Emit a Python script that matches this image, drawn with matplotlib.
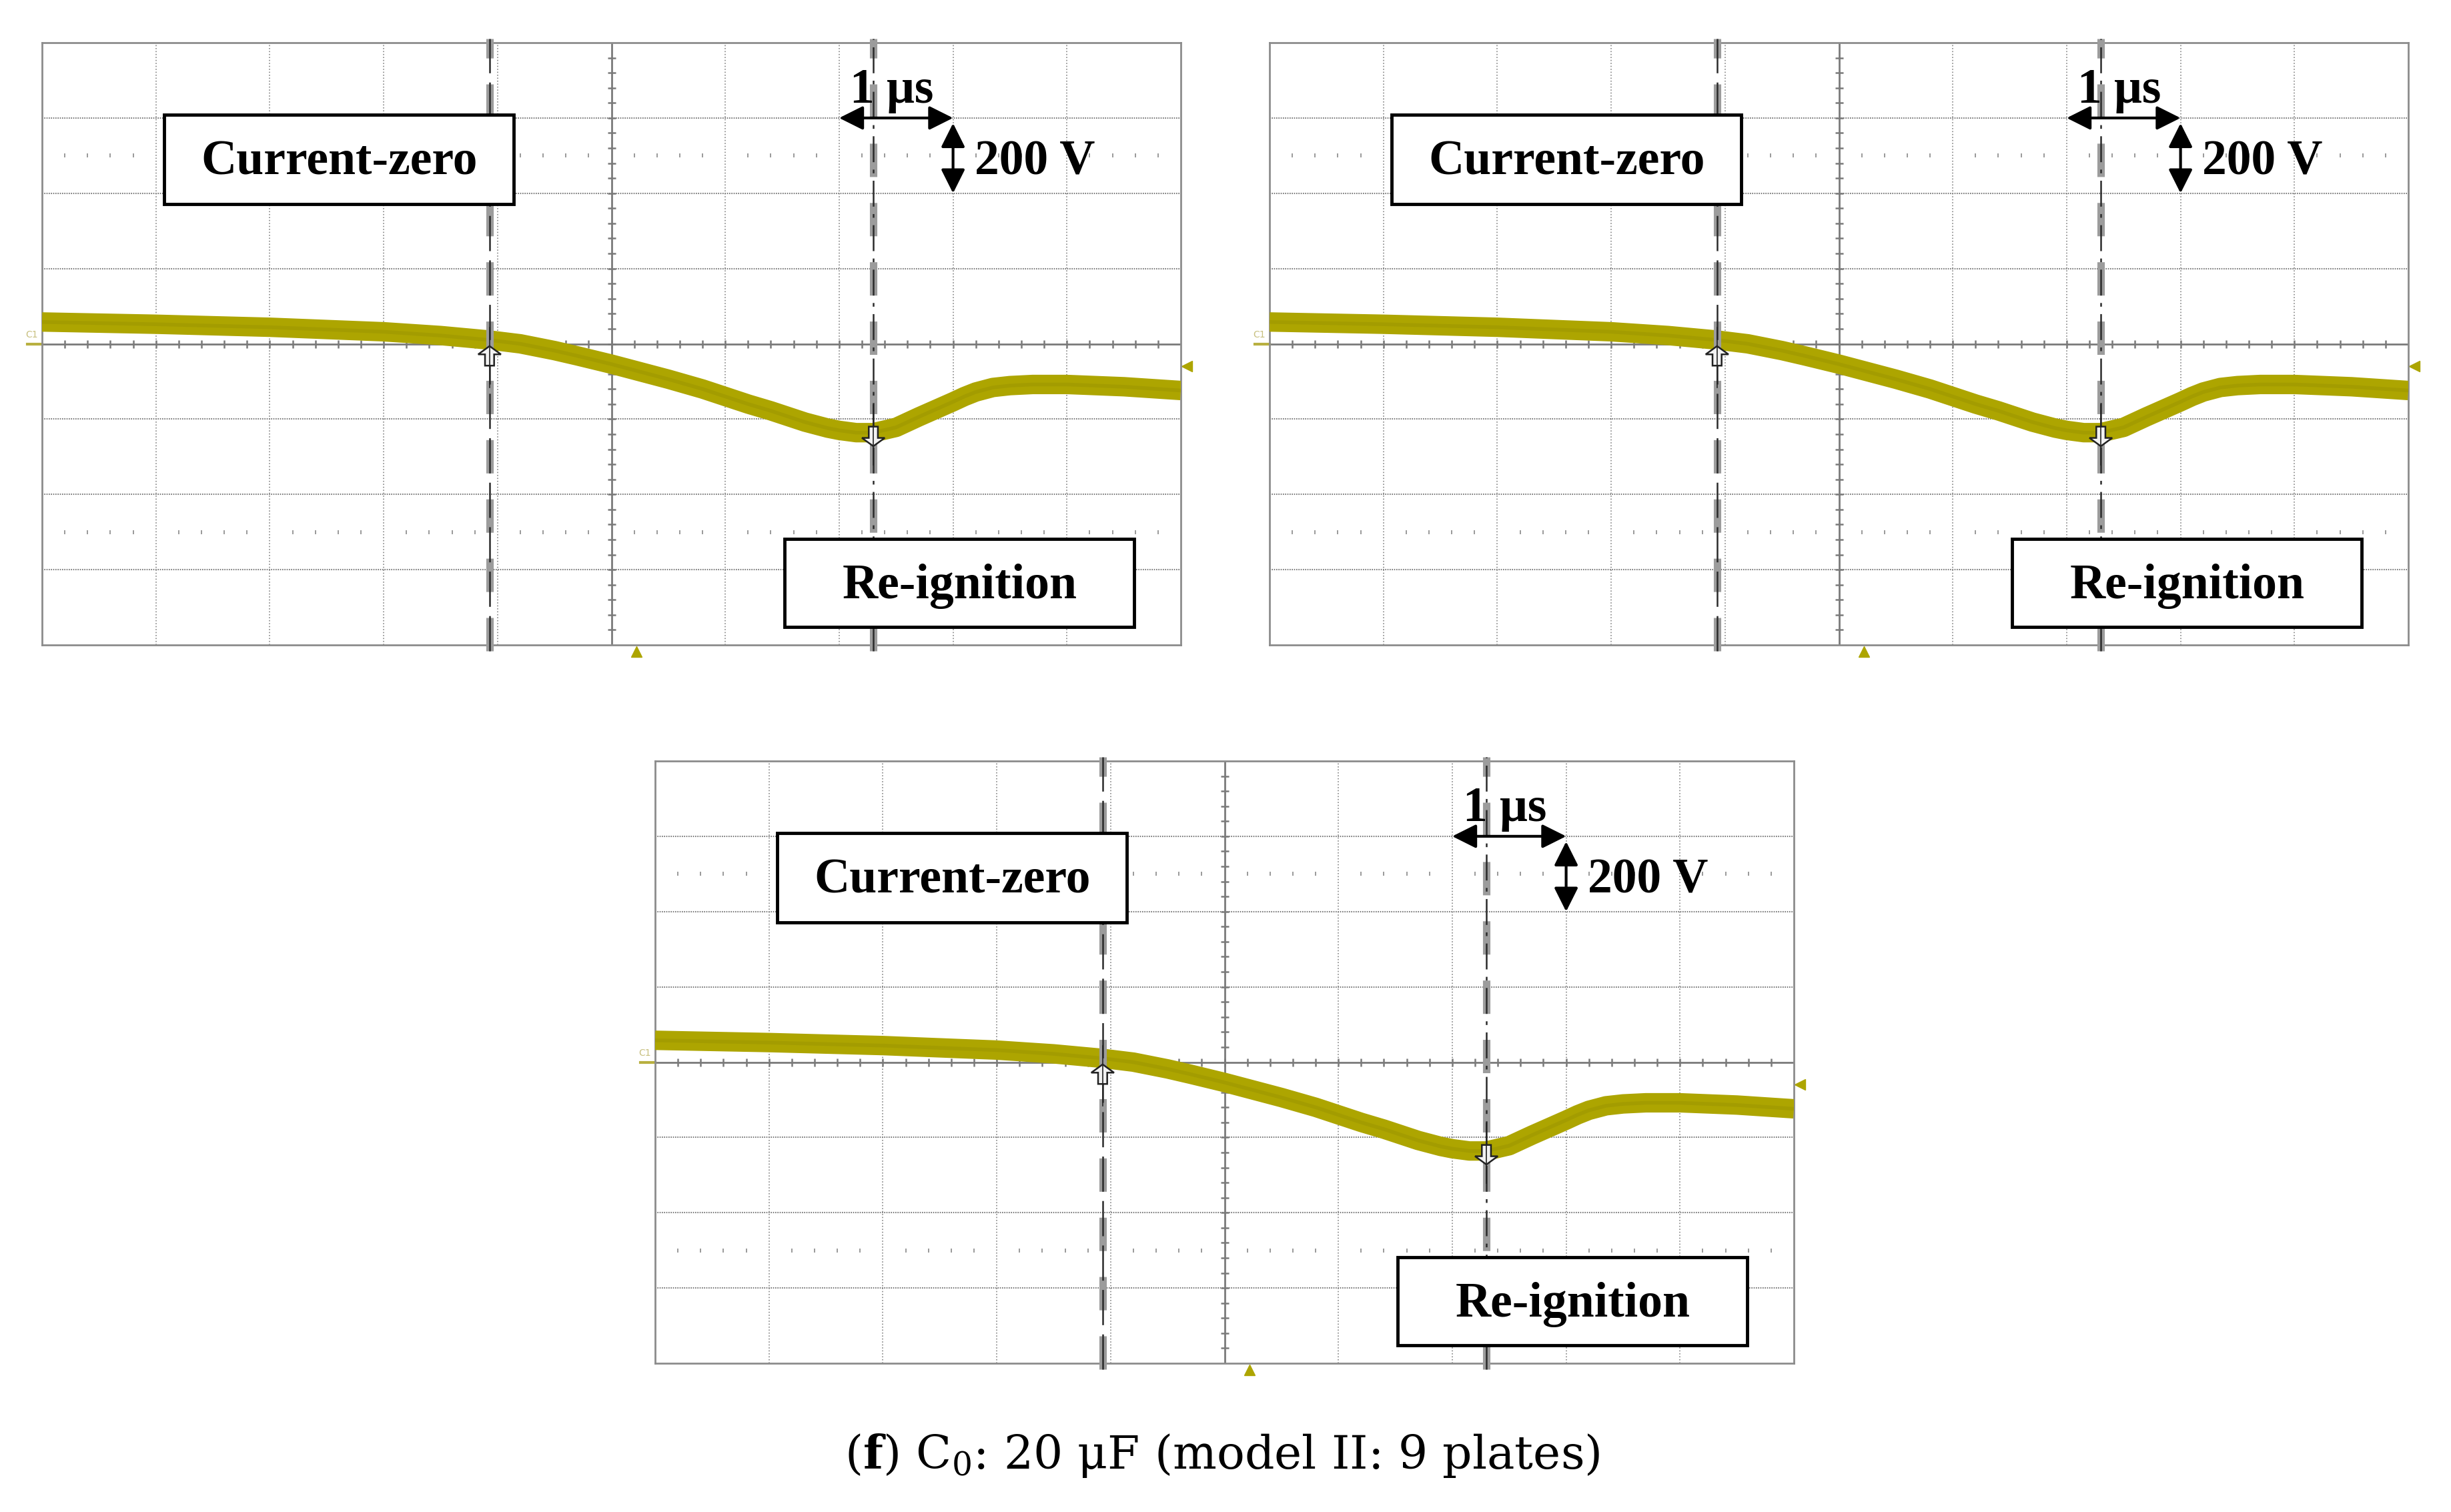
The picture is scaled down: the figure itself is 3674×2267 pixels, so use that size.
"""Oscilloscope traces: current-zero and re-ignition, three identical captures."""
import matplotlib
matplotlib.use("Agg")
import matplotlib.pyplot as plt
from matplotlib.patches import Rectangle, Polygon, FancyArrowPatch

plt.rcParams["font.family"] = ["Liberation Serif", "DejaVu Serif"]
plt.rcParams["mathtext.fontset"] = "dejavuserif"
plt.rcParams["lines.scale_dashes"] = False

# trace, in divisions (10 x 8 grid, centre = 0)
TRACE_X = [0.0, 1.0, 2.0, 3.0, 3.5, 3.93, 4.2, 4.5, 4.7, 5.0, 5.2, 5.5,
           5.8, 6.0, 6.2, 6.4, 6.7, 6.9, 7.0, 7.15, 7.3, 7.5, 7.7, 7.85,
           8.0, 8.1, 8.2, 8.35, 8.5, 8.7, 9.0, 9.5, 10.0]
TRACE_Y = [0.29, 0.26, 0.22, 0.16, 0.11, 0.05, 0.0, -0.09, -0.16, -0.27,
           -0.35, -0.47, -0.60, -0.70, -0.80, -0.89, -1.04, -1.12, -1.15,
           -1.18, -1.18, -1.11, -0.97, -0.87, -0.77, -0.70, -0.64, -0.58,
           -0.555, -0.54, -0.54, -0.57, -0.62]

CURSOR_ZERO = 3.93     # current-zero cursor (div)
CURSOR_REIGN = 7.30    # re-ignition cursor (div)
SCALE_T = (7.0, 8.0)   # 1 us marker span
SCALE_V = (2.93, 2.0)  # 200 V marker span
TRIG_X = 5.22
OFFSET_RIGHT = -0.30

LABELS = ["Current-zero", "Re-ignition"]
CAPTION = r"($\mathbf{f}$) C$_0$: 20 μF (model II: 9 plates)"

TRACE_COL = "#ADA500"
GRID_COL = "#7c7c7c"
AXIS_COL = "#7a7a7a"


def cursor_arrow(ax, x, tip, up=True):
    hw, sw, hh, sl = 0.10, 0.04, 0.11, 0.26
    s = 1 if up else -1
    pts = [(x, tip), (x + hw, tip - s * hh), (x + sw, tip - s * hh),
           (x + sw, tip - s * sl), (x - sw, tip - s * sl),
           (x - sw, tip - s * hh), (x - hw, tip - s * hh)]
    ax.add_patch(Polygon(pts, closed=True, fc="#f2f2f2", ec="#222222",
                         lw=1.8, zorder=6))
    ax.plot([x, x], [tip + s * 0.25, tip - s * 0.55], color="#222222",
            lw=1.2, zorder=7)


def draw_scope(ax):
    ax.set_xlim(0, 10)
    ax.set_ylim(-4, 4)
    ax.set_xticks([])
    ax.set_yticks([])
    for sp in ax.spines.values():
        sp.set_color("#8c8c8c")
        sp.set_linewidth(2.0)

    # graticule
    for gx in range(1, 10):
        if gx != 5:
            ax.axvline(gx, color=GRID_COL, lw=1.1, ls=(0, (1.2, 2.0)), zorder=1)
    for gy in range(-3, 4):
        if gy != 0:
            ax.axhline(gy, color=GRID_COL, lw=1.5, ls=(0, (1.2, 1.2)), zorder=1)
    ax.axhline(0, color=AXIS_COL, lw=2.0, zorder=2)
    ax.axvline(5, color=AXIS_COL, lw=2.0, zorder=2)
    minor_x = [i / 5 for i in range(1, 50)]
    minor_y = [i / 5 - 4 for i in range(1, 40)]
    ax.plot(minor_x, [0] * len(minor_x), ls="none", marker="|", ms=9,
            mew=1.8, color=AXIS_COL, zorder=2)
    ax.plot([5] * len(minor_y), minor_y, ls="none", marker="_", ms=8,
            mew=1.8, color=AXIS_COL, zorder=2)
    for ry in (2.5, -2.5):
        tx = [v for v in minor_x if abs(v - round(v)) > 1e-6]
        ax.plot(tx, [ry] * len(tx), ls="none", marker="|", ms=4,
                mew=1.4, color="#9a9a9a", zorder=2)

    # trace
    ax.plot(TRACE_X, TRACE_Y, color=TRACE_COL, lw=21, solid_capstyle="butt",
            solid_joinstyle="round", zorder=3)
    ax.plot(TRACE_X, TRACE_Y, color="#8f8900", lw=4, alpha=0.3, zorder=3)

    # cursors
    for cx, dark_ls in ((CURSOR_ZERO, (0, (38, 10))),
                        (CURSOR_REIGN, (0, (28, 8, 4, 8)))):
        ax.plot([cx, cx], [-4.08, 4.05], color="#9c9c9c", lw=8,
                ls=(0, (36, 28)), zorder=4, clip_on=False,
                dash_capstyle="butt")
        ax.plot([cx, cx], [-4.08, 4.05], color="#2a2a2a", lw=1.8,
                ls=dark_ls, zorder=4, clip_on=False, dash_capstyle="butt")
    cursor_arrow(ax, CURSOR_ZERO, -0.03, up=True)
    cursor_arrow(ax, CURSOR_REIGN, -1.36, up=False)

    # boxed labels
    for (x0, x1, y0, y1), lab, tx, ty in (
            ((1.07, 4.14, 1.86, 3.04), LABELS[0], 2.61, 2.25),
            ((6.52, 9.59, -3.76, -2.59), LABELS[1], 8.06, -3.38)):
        ax.add_patch(Rectangle((x0, y0), x1 - x0, y1 - y0, fc="white",
                               ec="black", lw=3.5, zorder=8))
        ax.text(tx, ty, lab, ha="center", va="baseline", fontsize=53,
                fontweight="bold", zorder=9)

    # scale markers
    for p0, p1 in (((SCALE_T[0], 3.0), (SCALE_T[1], 3.0)),
                   ((SCALE_T[1], SCALE_V[0]), (SCALE_T[1], SCALE_V[1]))):
        ax.add_patch(FancyArrowPatch(p0, p1,
                     arrowstyle="<|-|>,head_length=1.1,head_width=0.55",
                     mutation_scale=20, lw=3, color="black", shrinkA=0,
                     shrinkB=0, zorder=10))
    ax.text(7.46, 3.20, "1 μs", ha="center", va="baseline", fontsize=53,
            fontweight="bold", zorder=10)
    ax.text(8.19, 2.25, "200 V", ha="left", va="baseline", fontsize=53,
            fontweight="bold", zorder=10)

    # channel / trigger markers
    ax.plot([-0.13, 0], [0, 0], color="#b8b040", lw=3, clip_on=False)
    ax.text(-0.09, 0.06, "C1", ha="center", va="bottom", fontsize=10,
            color="#c8c080", family="DejaVu Sans", clip_on=False)
    ax.plot([10.05], [OFFSET_RIGHT], marker="<", ms=11, color=TRACE_COL,
            clip_on=False)
    ax.plot([TRIG_X], [-4.09], marker="^", ms=11, color=TRACE_COL,
            clip_on=False)


def main():
    fig = plt.figure(figsize=(36.74, 22.67), dpi=100)
    W, H = 3674, 2267
    rects = [(63, 64), (1903, 64), (982, 1141)]
    for left, top in rects:
        ax = fig.add_axes([left / W, 1 - (top + 903) / H, 1707 / W, 903 / H])
        draw_scope(ax)
    fig.text(0.4987, 65 / H, CAPTION, ha="center", va="baseline", fontsize=50,
             family="DejaVu Serif")
    fig.savefig("out.png", dpi=100, facecolor="white")


if __name__ == "__main__":
    main()
